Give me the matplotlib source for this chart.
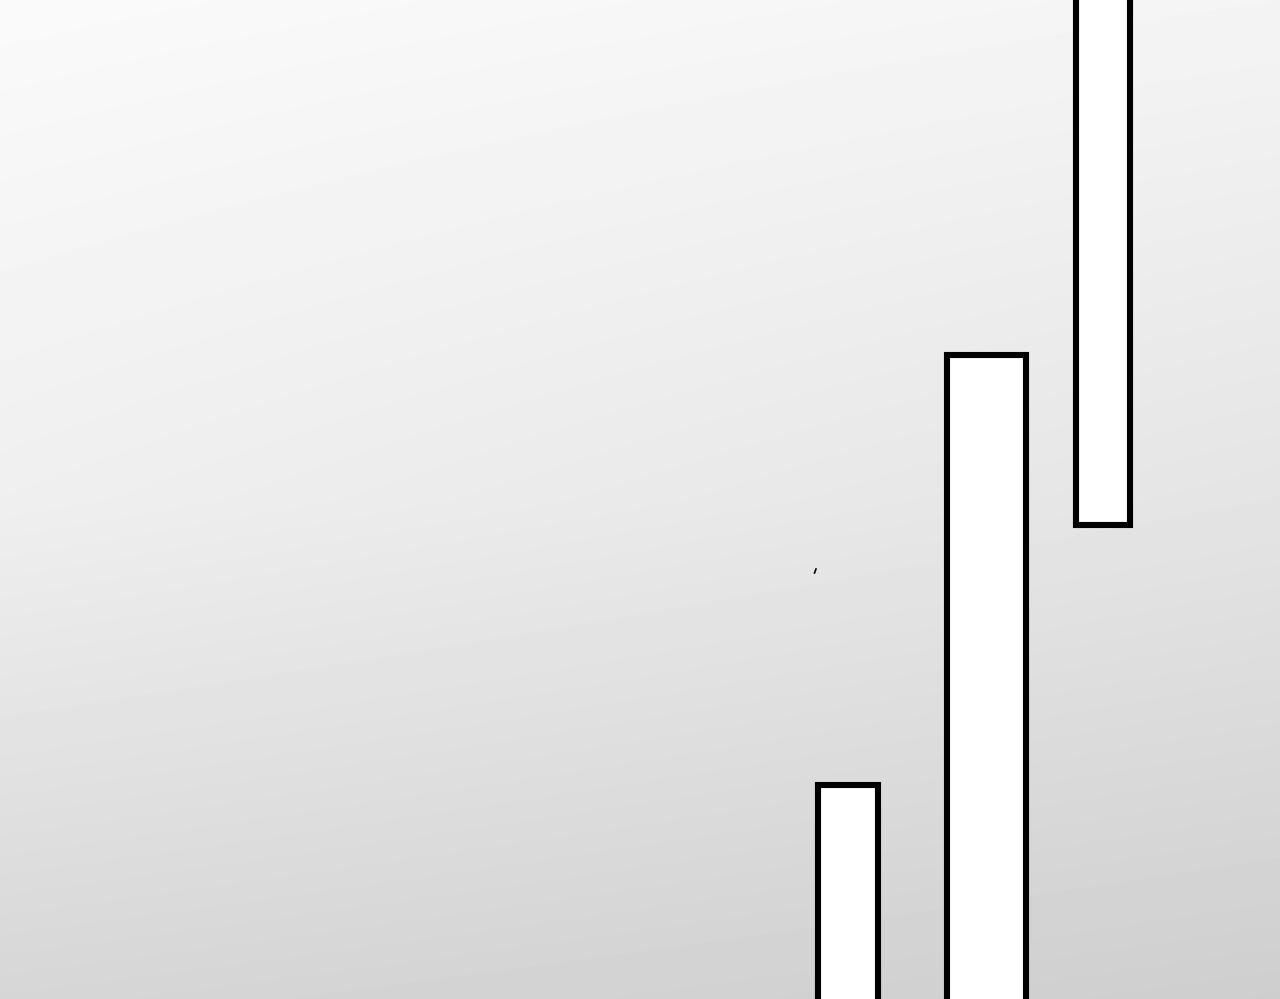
import numpy as np
import matplotlib
matplotlib.use('Agg')
import matplotlib.pyplot as plt

# bar data in pixel-like data units (y grows upward, 0 = bottom edge)
bar_centers = [848, 986.5, 1103]
bar_widths = [60, 79, 54]
bar_bottoms = [-20, -20, 474]
bar_tops = [214, 644, 1020]

# small stray stroke near the first bar
stroke_x = [814.5, 816.0]
stroke_y = [426.0, 430.0]

# background grey levels (0-255) at top, middle, bottom of left and right edges
left_grey = [250, 239, 214]
right_grey = [244, 228, 206]

W, H = 1280, 999

fig = plt.figure(figsize=(12.8, 9.99), dpi=100)
ax = fig.add_axes([0, 0, 1, 1])
ax.set_xlim(0, W)
ax.set_ylim(0, H)
ax.axis('off')

# grey gradient background, built from the edge profiles
t = np.linspace(0, 1, 300)[:, None]   # 0 = top, 1 = bottom
xs = np.linspace(0, 1, 300)[None, :]
left = np.interp(t, [0, 0.5, 1], left_grey)
right = np.interp(t, [0, 0.5, 1], right_grey)
shade = (left * (1 - xs) + right * xs) / 255.0
ax.imshow(shade, cmap='gray', vmin=0, vmax=1, origin='upper',
          extent=[0, W, 0, H], aspect='auto', zorder=0, interpolation='bilinear')

heights = [t - b for t, b in zip(bar_tops, bar_bottoms)]
ax.bar(bar_centers, heights, width=bar_widths, bottom=bar_bottoms,
       color='white', edgecolor='black', linewidth=4.4, zorder=2)

ax.plot(stroke_x, stroke_y, color='black', linewidth=1.2, zorder=3)

fig.savefig('out.png', dpi=100)
